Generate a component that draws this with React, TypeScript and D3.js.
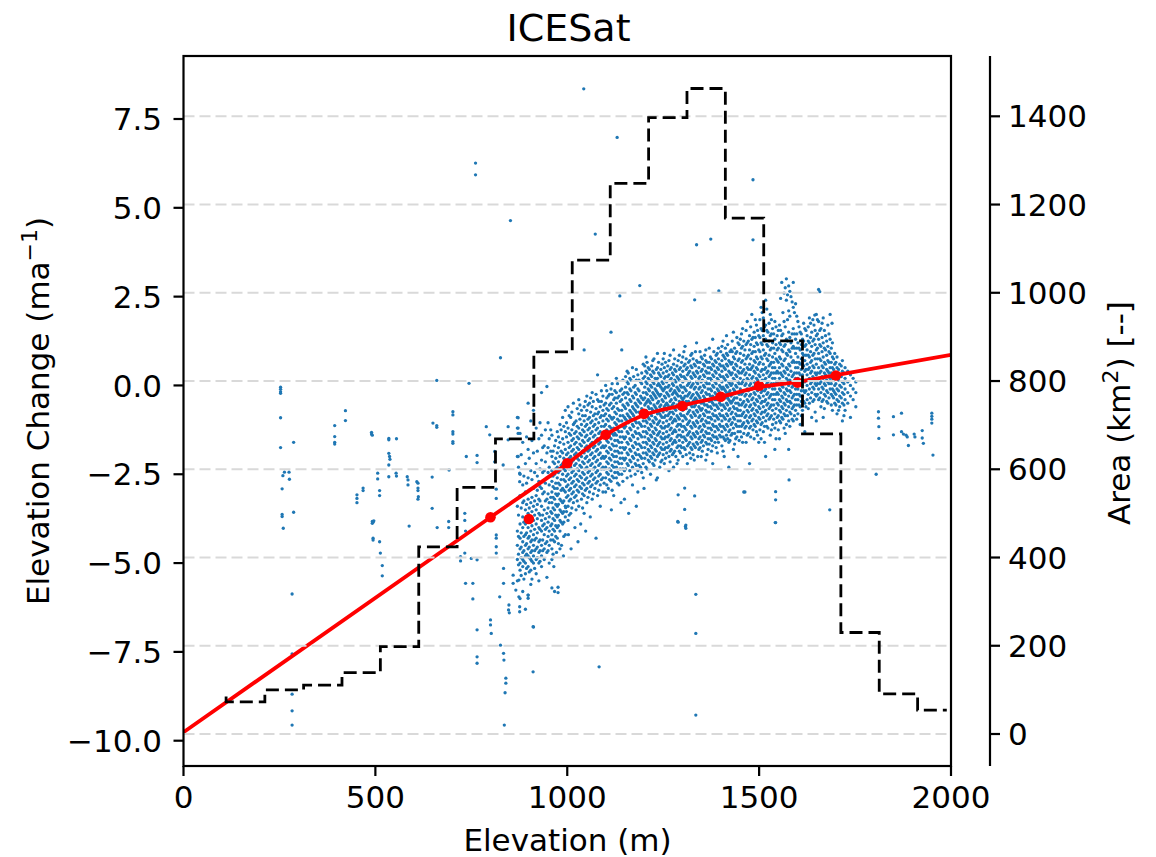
import React from 'react';
import * as d3 from 'd3';

const W = 1156;
const H = 857;
const M = { left: 183.5, right: 951, top: 56, bottom: 766 };
const RIGHT_AXIS_X = 990;

const xTicks = [0, 500, 1000, 1500, 2000];
const leftTicks = [-10, -7.5, -5, -2.5, 0, 2.5, 5, 7.5];
const rightTicks = [0, 200, 400, 600, 800, 1000, 1200, 1400];

// glacier hypsometry (step, "pre")
const histEdges = [111, 212, 313, 413, 513, 613, 713, 813, 913, 1013, 1112, 1212, 1312, 1412, 1512, 1613, 1713, 1813, 1913, 1989];
const histArea = [85, 73, 100, 111, 139, 198, 424, 559, 669, 866, 1074, 1248, 1397, 1463, 1169, 891, 680, 230, 91, 54];

// fitted curve
const fitElev = [0, 800, 1000, 1100, 1200, 1300, 1400, 1500, 1600, 1700, 2000];
const fitVals = [-9.76, -3.71, -2.2, -1.39, -0.83, -0.56, -0.32, -0.05, 0.1, 0.29, 0.86];

// binned means
const binElev = [800, 900, 1000, 1100, 1200, 1300, 1400, 1500, 1600, 1700];
const binMean = [-3.71, -3.76, -2.19, -1.39, -0.8, -0.58, -0.32, -0.01, 0.08, 0.28];

// isolated ICESat points [elevation, dh/dt]
const sparsePoints: [number, number][] = [
  [253, -0.05], [253, -0.11], [253, -0.18], [253, -0.22], [253, -0.91], [253, -1.75], [259, -2.54], [263, -2.44], [275, -2.44], [276, -2.64],
  [257, -2.91], [287, -1.6], [287, -3.57], [257, -3.63], [257, -3.69], [260, -4.02], [283, -5.87], [283, -7.56], [283, -8.69], [283, -9.16], [283, -9.56],
  [394, -1.13], [394, -1.44], [394, -1.6], [394, -1.65], [422, -0.71], [422, -0.99],
  [490, -1.32], [490, -1.37], [492, -1.4], [452, -3.08], [452, -3.18], [452, -3.3], [468, -2.89], [468, -2.96], [506, -2.47], [506, -2.63], [511, -2.96], [511, -3.1], [496, -3.81], [494, -3.85],
  [535, -1.49], [535, -1.53], [535, -1.91], [537, -2.0], [538, -2.08], [535, -2.24], [535, -2.57], [555, -1.5], [554, -2.47], [555, -2.55],
  [583, -2.57], [585, -2.66], [585, -2.8], [608, -2.71], [611, -2.75], [611, -2.89], [611, -2.96], [612, -3.13], [611, -3.2], [648, -2.58], [648, -3.46], [650, -1.06], [660, -1.13], [660, -1.18], [660, 0.14],
  [702, -0.74], [702, -0.83], [702, -1.3], [702, -1.37], [702, -1.58], [702, -1.63], [692, -2.38], [744, 0.06], [737, -2.0],
  [733, -3.6], [733, -3.8], [735, -4.1],
  [765, -1.97], [765, -2.17], [789, -1.16], [798, -1.39], [811, -1.86], [811, -2.15], [815, -2.92], [815, -3.18], [833, -2.24], [846, -1.16], [846, -1.53],
  [872, -1.2], [872, -1.35], [872, -2.0], [872, -0.91], [876, -2.47], [876, -2.71], [876, -3.13], [826, 0.78],
  [492, -3.83], [492, -3.88], [494, -4.3], [494, -4.35], [511, -4.4], [513, -4.72], [518, -5.07], [518, -5.36], [588, -3.96], [661, -4.0], [691, -4.0], [691, -3.83],
  [722, -4.82], [722, -4.94], [733, -4.72], [735, -5.57], [754, -5.57], [754, -6.01], [750, -4.87], [765, -4.91], [765, -6.88], [765, -7.64], [765, -7.82],
  [800, -6.6], [800, -6.74], [802, -6.98], [815, -4.21], [815, -4.3], [815, -4.54], [815, -4.72], [824, -5.95], [826, -7.31], [834, -5.15], [834, -5.57],
  [834, -7.54], [835, -7.73], [840, -8.24], [840, -8.38], [838, -8.65], [836, -9.56], [848, -6.18], [847, -6.32], [849, -6.4], [859, -5.34], [859, -5.57],
  [866, -5.76], [874, -5.48], [874, -5.95], [876, -6.23], [876, -6.37], [898, -5.9], [898, -5.99], [911, -6.79], [911, -8.06],
  [1043, 8.35], [1130, 6.98], [761, 6.26], [761, 5.93], [852, 4.64], [1073, 4.26], [1337, 3.96], [1374, 4.12], [1484, 5.79], [1484, 4.1],
  [1189, 2.81], [1137, 2.52], [1332, 2.41], [1395, 2.66], [1658, 2.64], [1645, 1.98], [1690, 1.75], [1684, -3.5], [1578, -2.66],
  [1543, -2.99], [1543, -3.22], [1543, -3.86], [1460, -3.0], [1289, -3.08], [1306, -2.89], [1306, -3.49], [1332, -3.11], [1289, -3.85], [1308, -3.97],
  [1232, -2.66], [996, -3.44], [1335, -5.88], [1335, -6.98], [1335, -9.28], [1083, -7.92], [1288, -3.83], [1309, -3.93], [1309, -4.02], [1542, -3.86],
  [976, -5.68], [976, -5.83],
  [960, -4.9], [965, -5.1], [972, -4.7], [985, -4.5], [990, -4.8], [1003, -4.2], [1010, -4.6], [1020, -4.0], [1028, -4.4], [1035, -3.9], [1048, -4.1], [1060, -3.7], [1075, -4.3],
  [1115, -3.5], [1140, -3.3], [1160, -3.6], [1180, -3.4], [1200, -2.9],
  [1811, -0.74], [1811, -0.92], [1812, -1.16], [1812, -1.49], [1805, -2.5], [1850, -0.88], [1850, -1.39], [1871, -0.78], [1871, -1.3], [1876, -1.37],
  [1883, -1.4], [1886, -1.45], [1889, -1.69], [1904, -1.37], [1906, -1.45], [1925, -1.27], [1925, -1.48], [1928, -1.63],
  [1950, -0.78], [1950, -0.87], [1950, -0.95], [1950, -1.06], [1953, -1.96],
];

// dense ICESat tracks: [elevation, values along the column]
const trackColumns: [number, number[]][] = [
  [870, [-0.9, -1.2, -2.0, -3.4, -4.1, -4.5, -4.9, -5.5]],
  [877, [-1.35, -2.5, -3.1, -3.9, -4.3, -4.6, -5.0, -5.2, -6.0]],
  [884, [-1.6, -2.8, -3.3, -3.7, -4.0, -4.4, -4.7, -4.9, -5.1, -5.8]],
  [891, [-2.2, -3.0, -3.5, -3.9, -4.2, -4.5, -4.8, -5.0, -5.3, -6.3]],
  [898, [-0.5, -1.8, -2.6, -3.2, -3.6, -4.0, -4.3, -4.6, -4.8, -5.1, -5.9]],
  [905, [-1.0, -2.4, -3.3, -3.7, -4.1, -4.4, -4.7, -4.9, -5.2, -5.6]],
  [912, [-0.7, -1.9, -2.9, -3.4, -3.8, -4.2, -4.5, -4.8, -5.0, -6.8]],
  [919, [-1.2, -2.2, -3.1, -3.5, -3.9, -4.3, -4.6, -4.9, -5.3]],
  [926, [-1.5, -2.7, -3.2, -3.6, -4.0, -4.4, -4.7, -5.0, -5.5]],
  [933, [-0.2, -1.4, -2.1, -2.9, -3.4, -3.8, -4.1, -4.5, -4.8, -5.1]],
  [940, [-1.7, -2.4, -3.0, -3.5, -3.9, -4.2, -4.6, -4.9]],
  [947, [-0.03, -1.9, -2.6, -3.2, -3.6, -4.0, -4.4, -4.7, -5.4]],
  [953, [-1.5, -2.3, -2.8, -3.3, -3.7, -4.1, -4.5, -5.0]],
  [960, [-1.4, -2.0, -2.4, -2.7, -3.0, -3.3, -3.6, -3.9, -4.2, -4.6, -5.7]],
  [967, [-1.7, -2.2, -2.5, -2.9, -3.2, -3.5, -3.8, -4.1, -4.4, -5.8]],
  [974, [-1.3, -1.9, -2.3, -2.6, -2.9, -3.1, -3.4, -3.7, -4.0, -4.3]],
  [981, [-1.1, -1.6, -2.0, -2.4, -2.8, -3.2, -3.5, -3.8, -4.1, -4.6]],
  [988, [-0.9, -1.5, -1.9, -2.2, -2.5, -2.9, -3.3, -3.6, -3.9]],
  [995, [-0.7, -1.3, -1.8, -2.1, -2.4, -2.7, -3.0, -3.4, -3.7, -4.2]],
  [1002, [-0.6, -1.2, -1.6, -1.9, -2.2, -2.5, -2.8, -3.1, -3.4, -3.8]],
  [1009, [-0.9, -1.4, -1.7, -2.0, -2.3, -2.6, -2.9, -3.2, -3.6]],
  [1016, [-0.5, -1.1, -1.5, -1.8, -2.1, -2.4, -2.7, -3.0, -3.3]],
  [1023, [-1.0, -1.3, -1.6, -1.9, -2.2, -2.5, -2.8, -3.1, -3.5]],
  [1030, [-0.4, -0.8, -1.2, -1.5, -1.8, -2.1, -2.4, -2.7, -3.0, -3.4]],
  [1037, [-0.7, -1.1, -1.4, -1.7, -2.0, -2.3, -2.6, -2.9, -3.2]],
  [1044, [1.0, -0.6, -1.0, -1.3, -1.6, -1.9, -2.2, -2.5, -2.8, -3.1, -3.6]],
  [1051, [-0.3, -0.7, -1.1, -1.4, -1.7, -2.0, -2.3, -2.6, -2.9, -3.3]],
  [1058, [-0.5, -0.9, -1.2, -1.5, -1.8, -2.1, -2.4, -2.7, -3.0]],
  [1065, [-0.2, -0.6, -1.0, -1.3, -1.6, -1.9, -2.2, -2.5, -2.8, -3.2]],
  [1072, [-0.8, -1.1, -1.4, -1.7, -2.0, -2.3, -2.6, -2.9]],
  [1079, [0.3, -0.4, -0.8, -1.2, -1.5, -1.8, -2.1, -2.4, -2.7, -3.1]],
  [1086, [-0.6, -0.9, -1.3, -1.6, -1.9, -2.2, -2.5, -2.8, -3.4]],
  [1093, [-0.3, -0.7, -1.0, -1.4, -1.7, -2.0, -2.3, -2.6, -3.0]],
  [1100, [0.0, -0.5, -0.8, -1.1, -1.4, -1.7, -2.0, -2.3, -2.6, -3.0]],
  [1107, [-0.3, -0.7, -1.0, -1.3, -1.6, -1.9, -2.2, -2.5, -2.9]],
  [1114, [1.5, -0.1, -0.5, -0.9, -1.2, -1.5, -1.8, -2.1, -2.4, -2.7]],
  [1121, [-0.4, -0.6, -0.9, -1.2, -1.4, -1.7, -2.0, -2.3, -2.6, -3.1]],
  [1128, [0.2, -0.2, -0.5, -0.8, -1.1, -1.4, -1.7, -2.0, -2.3, -2.6]],
  [1135, [-0.3, -0.7, -1.0, -1.3, -1.6, -1.9, -2.2, -2.5, -2.8]],
  [1142, [1.0, -0.1, -0.4, -0.7, -1.0, -1.3, -1.6, -1.9, -2.2, -2.5]],
  [1149, [-0.2, -0.6, -0.9, -1.2, -1.5, -1.8, -2.1, -2.4, -3.2]],
  [1156, [0.4, 0.1, -0.2, -0.5, -0.8, -1.0, -1.3, -1.6, -1.9, -2.2, -2.6]],
  [1163, [0.2, -0.1, -0.4, -0.7, -0.9, -1.2, -1.5, -1.8, -2.1, -2.4]],
  [1170, [0.5, -0.3, -0.6, -0.8, -1.1, -1.4, -1.7, -2.0, -2.3, -2.8]],
  [1177, [0.0, -0.2, -0.5, -0.7, -1.0, -1.3, -1.6, -1.9, -2.2, -2.5]],
  [1184, [0.3, -0.1, -0.4, -0.6, -0.9, -1.2, -1.5, -1.8, -2.1, -2.4, -3.0]],
  [1191, [0.1, -0.3, -0.5, -0.8, -1.1, -1.4, -1.7, -2.0, -2.3]],
  [1198, [0.6, 0.2, -0.2, -0.4, -0.7, -1.0, -1.3, -1.6, -1.9, -2.2, -2.6]],
  [1205, [0.8, 0.4, 0.1, -0.2, -0.5, -0.7, -1.0, -1.3, -1.6, -1.9, -2.3]],
  [1211, [0.5, 0.2, -0.1, -0.4, -0.6, -0.9, -1.2, -1.5, -1.8, -2.1]],
  [1217, [0.3, 0.0, -0.3, -0.5, -0.8, -1.1, -1.4, -1.7, -2.0, -2.5]],
  [1223, [0.7, 0.4, 0.1, -0.2, -0.4, -0.7, -1.0, -1.3, -1.6, -1.9, -2.2]],
  [1229, [0.2, -0.1, -0.3, -0.6, -0.9, -1.2, -1.5, -1.8, -2.1]],
  [1235, [0.9, 0.5, 0.2, 0.0, -0.2, -0.5, -0.8, -1.1, -1.4, -1.7, -2.0, -2.6]],
  [1241, [0.3, 0.0, -0.3, -0.6, -0.8, -1.0, -1.3, -1.6, -1.9, -2.3]],
  [1247, [0.6, 0.1, -0.1, -0.4, -0.7, -0.9, -1.2, -1.5, -1.8, -2.1]],
  [1253, [0.9, 0.5, 0.2, -0.1, -0.3, -0.6, -0.9, -1.2, -1.5, -1.8, -2.2]],
  [1259, [0.4, 0.1, -0.2, -0.5, -0.7, -1.0, -1.3, -1.6, -1.9]],
  [1265, [0.7, 0.3, 0.0, -0.3, -0.6, -0.8, -1.1, -1.4, -1.7, -2.0, -2.4]],
  [1271, [0.5, 0.2, -0.1, -0.4, -0.6, -0.9, -1.2, -1.5, -1.8]],
  [1277, [1.0, 0.6, 0.3, 0.0, -0.2, -0.5, -0.8, -1.0, -1.3, -1.6, -1.9, -2.3]],
  [1283, [0.4, 0.1, -0.2, -0.4, -0.7, -1.0, -1.3, -1.6, -2.0]],
  [1289, [0.7, 0.2, -0.1, -0.3, -0.6, -0.9, -1.1, -1.4, -1.7, -2.1]],
  [1295, [0.5, 0.3, 0.0, -0.3, -0.5, -0.8, -1.1, -1.4, -1.7, -1.9]],
  [1301, [0.8, 0.4, 0.1, -0.2, -0.4, -0.7, -1.0, -1.3, -1.6, -2.0]],
  [1307, [1.1, 0.6, 0.2, -0.1, -0.3, -0.6, -0.9, -1.2, -1.5, -1.8]],
  [1313, [0.5, 0.3, 0.0, -0.3, -0.5, -0.8, -1.1, -1.4, -1.7, -2.2]],
  [1319, [0.7, 0.4, 0.1, -0.2, -0.5, -0.7, -1.0, -1.3, -1.6, -1.9]],
  [1325, [0.9, 0.5, 0.2, 0.0, -0.3, -0.6, -0.9, -1.2, -1.5, -1.8]],
  [1331, [0.6, 0.3, -0.1, -0.4, -0.6, -0.8, -1.1, -1.4, -1.7, -2.1]],
  [1337, [1.2, 0.7, 0.4, 0.1, -0.2, -0.4, -0.7, -1.0, -1.3, -1.6]],
  [1343, [0.5, 0.2, -0.1, -0.3, -0.6, -0.9, -1.2, -1.5, -1.8]],
  [1349, [0.8, 0.4, 0.1, -0.2, -0.5, -0.7, -1.0, -1.3, -1.6, -2.0]],
  [1355, [0.6, 0.3, 0.0, -0.3, -0.5, -0.8, -1.1, -1.4, -1.7]],
  [1361, [1.0, 0.7, 0.4, 0.1, -0.2, -0.4, -0.7, -1.0, -1.3, -1.6, -2.1]],
  [1367, [0.5, 0.2, -0.1, -0.4, -0.6, -0.9, -1.2, -1.5, -1.8]],
  [1373, [0.8, 0.5, 0.2, -0.1, -0.3, -0.6, -0.9, -1.2, -1.5]],
  [1379, [1.3, 0.6, 0.3, 0.0, -0.3, -0.5, -0.8, -1.1, -1.4, -1.7, -2.2]],
  [1385, [0.7, 0.4, 0.1, -0.2, -0.4, -0.7, -1.0, -1.3, -1.6]],
  [1391, [0.9, 0.5, 0.2, -0.1, -0.4, -0.6, -0.9, -1.2, -1.5, -1.9]],
  [1397, [0.6, 0.3, 0.0, -0.2, -0.5, -0.8, -1.1, -1.4]],
  [1403, [1.1, 0.7, 0.4, 0.1, -0.1, -0.4, -0.7, -1.0, -1.3, -1.7]],
  [1409, [0.8, 0.5, 0.2, -0.1, -0.3, -0.6, -0.9, -1.2, -1.5, -2.0]],
  [1415, [1.4, 0.9, 0.6, 0.3, 0.0, -0.2, -0.5, -0.8, -1.1, -1.4]],
  [1421, [0.7, 0.4, 0.1, -0.2, -0.4, -0.7, -1.0, -1.3, -1.6, -2.3]],
  [1427, [1.0, 0.6, 0.3, 0.0, -0.3, -0.5, -0.8, -1.1, -1.4]],
  [1433, [1.5, 0.8, 0.5, 0.2, -0.1, -0.4, -0.6, -0.9, -1.2, -1.8]],
  [1439, [0.9, 0.6, 0.3, 0.0, -0.2, -0.5, -0.8, -1.1, -1.5]],
  [1445, [1.2, 0.7, 0.4, 0.1, -0.2, -0.5, -0.7, -1.0, -1.3, -2.0]],
  [1451, [1.3, 0.9, 0.5, 0.2, -0.1, -0.4, -0.7, -1.0, -1.3]],
  [1457, [1.6, 1.1, 0.7, 0.4, 0.1, -0.2, -0.5, -0.8, -1.1, -1.6]],
  [1463, [1.0, 0.6, 0.3, 0.0, -0.3, -0.6, -0.9, -1.2, -3.0]],
  [1469, [1.8, 1.2, 0.8, 0.5, 0.2, -0.1, -0.4, -0.7, -1.0, -1.4]],
  [1475, [1.4, 1.0, 0.6, 0.3, 0.0, -0.3, -0.6, -0.9, -1.2, -2.2]],
  [1481, [2.0, 1.3, 0.9, 0.5, 0.2, -0.1, -0.4, -0.7, -1.0]],
  [1487, [1.5, 1.1, 0.7, 0.4, 0.1, -0.2, -0.5, -0.8, -1.1, -1.5]],
  [1493, [1.7, 1.2, 0.8, 0.5, 0.2, -0.1, -0.4, -0.7, -1.0, -1.3]],
  [1499, [1.4, 1.0, 0.6, 0.3, 0.0, -0.3, -0.6, -0.9, -1.6]],
  [1505, [2.2, 1.6, 1.2, 0.8, 0.4, 0.1, -0.2, -0.5, -0.8, -1.1, -1.5]],
  [1511, [1.9, 1.4, 1.0, 0.6, 0.3, 0.0, -0.3, -0.6, -0.9, -1.3]],
  [1517, [2.4, 1.7, 1.3, 0.9, 0.5, 0.2, -0.1, -0.4, -0.7, -1.0, -2.0]],
  [1523, [1.5, 1.1, 0.7, 0.4, 0.1, -0.2, -0.5, -0.8, -1.2]],
  [1529, [2.0, 1.4, 1.0, 0.6, 0.3, 0.0, -0.3, -0.6, -0.9, -1.4]],
  [1535, [1.6, 1.2, 0.8, 0.5, 0.2, -0.1, -0.4, -0.7, -1.1]],
  [1541, [1.8, 1.3, 0.9, 0.5, 0.2, -0.1, -0.4, -0.8, -1.2, -1.8]],
  [1547, [1.4, 1.0, 0.7, 0.4, 0.1, -0.2, -0.5, -0.9]],
  [1553, [1.7, 1.2, 0.8, 0.5, 0.2, -0.1, -0.4, -0.7, -1.0, -1.5]],
  [1559, [2.9, 1.4, 1.0, 0.6, 0.3, 0.0, -0.3, -0.6, -0.9]],
  [1565, [2.6, 1.8, 1.1, 0.7, 0.4, 0.1, -0.2, -0.5, -0.8, -1.2]],
  [1571, [3.0, 2.4, 1.3, 0.9, 0.5, 0.2, -0.1, -0.4, -0.7, -1.1]],
  [1577, [2.8, 2.1, 1.5, 1.0, 0.6, 0.3, 0.0, -0.3, -0.6, -1.0, -1.8]],
  [1583, [2.5, 1.2, 0.8, 0.4, 0.1, -0.2, -0.5, -0.8]],
  [1589, [2.9, 2.2, 1.6, 1.1, 0.7, 0.3, 0.0, -0.3, -0.6, -1.0]],
  [1595, [2.3, 1.3, 0.9, 0.5, 0.2, -0.1, -0.4, -0.7]],
  [1601, [1.8, 1.2, 0.8, 0.5, 0.2, -0.1, -0.4, -0.8]],
  [1607, [1.5, 1.0, 0.6, 0.3, 0.0, -0.3, -0.6, -1.1]],
  [1613, [1.3, 0.9, 0.6, 0.3, 0.0, -0.3, -0.7]],
  [1619, [1.6, 1.1, 0.7, 0.4, 0.1, -0.2, -0.5, -1.3]],
  [1625, [1.4, 1.0, 0.6, 0.3, 0.0, -0.4]],
  [1631, [1.9, 1.2, 0.8, 0.5, 0.2, -0.1, -0.5]],
  [1637, [1.5, 1.1, 0.7, 0.4, 0.1, -0.2, -0.9]],
  [1643, [1.7, 1.3, 0.9, 0.5, 0.2, -0.1, -0.4]],
  [1649, [2.0, 1.4, 1.0, 0.6, 0.3, 0.0, -0.3, -1.0]],
  [1655, [2.7, 1.8, 1.3, 0.9, 0.5, 0.2, -0.1, -0.4]],
  [1661, [1.6, 1.1, 0.7, 0.4, 0.1, -0.2, -0.6]],
  [1667, [1.9, 1.2, 0.8, 0.5, 0.2, -0.1, -0.4, -0.9]],
  [1673, [1.4, 1.0, 0.6, 0.3, 0.0, -0.3]],
  [1679, [1.7, 1.1, 0.7, 0.4, 0.1, -0.2, -0.5]],
  [1685, [2.0, 1.3, 0.9, 0.5, 0.2, -0.1]],
  [1691, [1.2, 0.8, 0.5, 0.2, -0.1, -0.3, -0.7]],
  [1697, [0.9, 0.6, 0.3, 0.0, -0.2, -0.5]],
  [1703, [0.8, 0.5, 0.2, -0.1, -0.4, -0.8]],
  [1710, [0.6, 0.3, 0.0, -0.3, -0.6]],
  [1717, [0.7, 0.4, 0.1, -0.2, -0.5, -1.0]],
  [1724, [0.5, 0.2, -0.1, -0.4, -0.7]],
  [1731, [0.4, 0.1, -0.2, -0.5]],
  [1738, [0.3, 0.0, -0.3, -0.9]],
  [1745, [0.2, -0.1, -0.4]],
  [1752, [0.1, -0.2, -0.6]],
];

// second set of crossing tracks, interleaved with the first
const trackColumnsB: [number, number[]][] = [
  [873, [-2.3, -3.65, -4.25, -4.75, -5.05]],
  [880, [-1.95, -3.45, -4.15, -4.55, -4.85, -5.35]],
  [887, [-2.55, -3.25, -3.85, -4.25, -4.65, -4.95, -5.45]],
  [894, [-1.45, -2.75, -3.35, -3.75, -4.15, -4.45, -4.75, -5.15]],
  [901, [-2.05, -2.95, -3.45, -3.85, -4.25, -4.55, -4.85, -5.25]],
  [908, [-1.55, -2.65, -3.15, -3.55, -3.95, -4.35, -4.65, -4.95, -5.45]],
  [915, [-2.45, -3.25, -3.65, -4.05, -4.35, -4.65, -5.15]],
  [922, [-1.85, -2.55, -2.95, -3.35, -3.75, -4.15, -4.55, -4.85]],
  [929, [-1.05, -2.35, -2.85, -3.25, -3.65, -4.05, -4.35, -4.65, -4.95]],
  [936, [-1.75, -2.45, -3.05, -3.65, -3.95, -4.35, -4.65]],
  [943, [-1.25, -2.15, -2.75, -3.25, -3.75, -4.05, -4.45]],
  [950, [-1.05, -1.75, -2.45, -3.05, -3.45, -3.85, -4.25, -4.65]],
  [957, [-1.25, -1.85, -2.55, -3.15, -3.55, -3.95, -4.35]],
  [963, [-1.85, -2.15, -2.55, -2.85, -3.15, -3.45, -3.75, -4.05, -4.35, -4.75]],
  [970, [-1.55, -2.05, -2.35, -2.75, -3.05, -3.35, -3.65, -3.95, -4.25]],
  [977, [-1.45, -1.75, -2.15, -2.45, -2.75, -3.05, -3.35, -3.65, -3.95, -4.45]],
  [984, [-1.25, -1.85, -2.25, -2.65, -2.95, -3.25, -3.55, -3.85]],
  [991, [-1.15, -1.65, -2.05, -2.35, -2.65, -2.95, -3.25, -3.55, -3.85, -4.25]],
  [998, [-1.05, -1.45, -1.95, -2.25, -2.55, -2.85, -3.15, -3.55]],
  [1005, [-0.85, -1.35, -1.75, -2.05, -2.35, -2.65, -2.95, -3.25, -3.65]],
  [1012, [-0.75, -1.25, -1.55, -1.85, -2.15, -2.45, -2.75, -3.05, -3.45]],
  [1019, [-1.05, -1.35, -1.65, -1.95, -2.25, -2.55, -2.85, -3.15]],
  [1026, [-0.65, -1.15, -1.45, -1.75, -2.05, -2.35, -2.65, -2.95, -3.25]],
  [1033, [-0.55, -0.95, -1.35, -1.65, -1.95, -2.25, -2.55, -2.85]],
  [1040, [-0.85, -1.25, -1.55, -1.85, -2.15, -2.45, -2.75, -3.05, -3.45]],
  [1047, [-0.45, -0.85, -1.15, -1.45, -1.75, -2.05, -2.35, -2.65, -2.95]],
  [1054, [-0.55, -0.95, -1.25, -1.55, -1.85, -2.15, -2.45, -2.75, -3.15]],
  [1061, [-0.35, -0.75, -1.05, -1.35, -1.65, -1.95, -2.25, -2.55, -2.85]],
  [1068, [-0.45, -0.85, -1.15, -1.45, -1.75, -2.05, -2.35, -2.65, -3.05]],
  [1075, [-0.25, -0.65, -0.95, -1.25, -1.55, -1.85, -2.15, -2.45, -2.75]],
  [1082, [-0.45, -0.75, -1.05, -1.35, -1.65, -1.95, -2.25, -2.55, -2.95]],
  [1089, [-0.15, -0.45, -0.85, -1.15, -1.45, -1.75, -2.05, -2.35, -2.65]],
  [1096, [-0.55, -0.85, -1.15, -1.45, -1.75, -2.05, -2.35, -2.75]],
  [1103, [-0.15, -0.35, -0.65, -0.95, -1.25, -1.55, -1.85, -2.15, -2.45, -2.8]],
  [1110, [-0.25, -0.55, -0.85, -1.15, -1.45, -1.75, -2.05, -2.35, -2.65]],
  [1117, [0.05, -0.25, -0.65, -0.95, -1.35, -1.65, -1.95, -2.25, -2.55, -2.95]],
  [1124, [-0.15, -0.35, -0.75, -1.05, -1.35, -1.55, -1.85, -2.15, -2.45]],
  [1131, [0.05, -0.35, -0.65, -0.95, -1.25, -1.55, -1.85, -2.15, -2.45, -2.75]],
  [1138, [-0.15, -0.45, -0.85, -1.15, -1.45, -1.75, -2.05, -2.35]],
  [1145, [0.15, -0.25, -0.55, -0.85, -1.15, -1.45, -1.75, -2.05, -2.35, -2.7]],
  [1152, [0.25, -0.05, -0.35, -0.65, -0.95, -1.15, -1.45, -1.75, -2.05, -2.35]],
  [1159, [0.35, 0.05, -0.25, -0.55, -0.85, -1.05, -1.35, -1.65, -1.95, -2.25]],
  [1166, [0.15, -0.15, -0.45, -0.75, -0.95, -1.25, -1.55, -1.85, -2.15, -2.55]],
  [1173, [0.25, -0.05, -0.35, -0.65, -0.85, -1.15, -1.45, -1.75, -2.05]],
  [1180, [0.45, 0.15, -0.25, -0.55, -0.75, -1.05, -1.35, -1.65, -1.95, -2.25]],
  [1187, [0.15, -0.15, -0.45, -0.75, -1.05, -1.35, -1.65, -1.95, -2.25]],
  [1194, [0.35, 0.05, -0.35, -0.65, -0.85, -1.15, -1.45, -1.75, -2.05, -2.45]],
  [1202, [0.55, 0.25, -0.05, -0.35, -0.55, -0.85, -1.15, -1.45, -1.75, -2.05]],
  [1208, [0.65, 0.35, 0.05, -0.25, -0.45, -0.75, -1.05, -1.35, -1.65, -1.95, -2.35]],
  [1214, [0.45, 0.15, -0.15, -0.45, -0.65, -0.95, -1.25, -1.55, -1.85, -2.15]],
  [1220, [0.55, 0.25, -0.05, -0.35, -0.65, -0.85, -1.15, -1.45, -1.75, -2.05]],
  [1226, [0.75, 0.35, 0.05, -0.25, -0.55, -0.75, -1.05, -1.35, -1.65, -1.95, -2.25]],
  [1232, [0.45, 0.15, -0.15, -0.35, -0.65, -0.95, -1.25, -1.55, -1.85]],
  [1238, [0.65, 0.35, 0.05, -0.25, -0.45, -0.75, -1.05, -1.35, -1.65, -1.95]],
  [1244, [0.45, 0.25, -0.05, -0.25, -0.55, -0.85, -1.15, -1.45, -1.75, -2.15]],
  [1250, [0.75, 0.35, 0.05, -0.15, -0.45, -0.75, -1.05, -1.35, -1.65, -1.95]],
  [1256, [0.65, 0.25, -0.05, -0.35, -0.55, -0.85, -1.15, -1.45, -1.75, -2.05]],
  [1262, [0.55, 0.25, -0.05, -0.25, -0.55, -0.85, -1.15, -1.45, -1.75]],
  [1268, [0.85, 0.45, 0.15, -0.15, -0.45, -0.75, -0.95, -1.25, -1.55, -1.85, -2.15]],
  [1274, [0.35, 0.05, -0.25, -0.55, -0.75, -1.05, -1.35, -1.65, -1.95]],
  [1280, [0.75, 0.45, 0.15, -0.15, -0.35, -0.65, -0.95, -1.25, -1.55, -1.85]],
  [1286, [0.55, 0.25, -0.05, -0.25, -0.55, -0.85, -1.15, -1.45, -1.75, -2.2]],
  [1292, [0.85, 0.45, 0.15, -0.15, -0.45, -0.65, -0.95, -1.25, -1.55, -1.85]],
  [1298, [0.65, 0.25, -0.05, -0.35, -0.55, -0.85, -1.15, -1.45, -1.75]],
  [1304, [0.95, 0.55, 0.25, -0.05, -0.35, -0.55, -0.85, -1.15, -1.45, -1.75]],
  [1310, [0.75, 0.45, 0.15, -0.15, -0.45, -0.65, -0.95, -1.25, -1.55, -1.95]],
  [1316, [0.65, 0.35, 0.05, -0.25, -0.45, -0.75, -1.05, -1.35, -1.65]],
  [1322, [0.85, 0.55, 0.25, -0.05, -0.35, -0.55, -0.85, -1.15, -1.45, -1.75, -2.05]],
  [1328, [0.75, 0.35, 0.05, -0.25, -0.45, -0.75, -1.05, -1.35, -1.65, -1.95]],
  [1334, [0.95, 0.55, 0.25, -0.05, -0.35, -0.55, -0.85, -1.15, -1.45, -1.75]],
  [1340, [0.65, 0.35, 0.05, -0.25, -0.45, -0.75, -1.05, -1.35, -1.65, -2.0]],
  [1346, [0.95, 0.65, 0.25, -0.05, -0.35, -0.65, -0.85, -1.15, -1.45, -1.75]],
  [1352, [0.75, 0.45, 0.15, -0.15, -0.45, -0.65, -0.95, -1.25, -1.55, -1.85]],
  [1358, [0.85, 0.55, 0.25, -0.05, -0.35, -0.55, -0.85, -1.15, -1.45]],
  [1364, [0.65, 0.35, 0.05, -0.25, -0.55, -0.75, -1.05, -1.35, -1.65, -1.95]],
  [1370, [1.05, 0.65, 0.35, 0.05, -0.25, -0.45, -0.75, -1.05, -1.35, -1.65]],
  [1376, [0.75, 0.45, 0.15, -0.15, -0.45, -0.65, -0.95, -1.25, -1.55, -1.85]],
  [1382, [0.95, 0.55, 0.25, -0.05, -0.35, -0.55, -0.85, -1.15, -1.45]],
  [1388, [0.85, 0.65, 0.35, 0.05, -0.25, -0.55, -0.85, -1.15, -1.45, -1.75]],
  [1394, [1.05, 0.75, 0.45, 0.15, -0.15, -0.35, -0.65, -0.95, -1.25, -1.6]],
  [1400, [0.95, 0.55, 0.25, -0.05, -0.25, -0.55, -0.85, -1.15, -1.45]],
  [1406, [1.25, 0.85, 0.55, 0.25, -0.05, -0.25, -0.55, -0.85, -1.15, -1.45, -1.85]],
  [1412, [1.05, 0.75, 0.45, 0.15, -0.15, -0.35, -0.65, -0.95, -1.25, -1.55]],
  [1418, [1.15, 0.85, 0.55, 0.25, -0.05, -0.35, -0.55, -0.85, -1.15, -1.5]],
  [1424, [0.95, 0.65, 0.35, 0.05, -0.15, -0.45, -0.65, -0.95, -1.25, -1.55]],
  [1430, [1.25, 0.95, 0.65, 0.35, 0.05, -0.25, -0.45, -0.75, -1.05, -1.35]],
  [1436, [1.05, 0.75, 0.45, 0.15, -0.15, -0.35, -0.65, -0.95, -1.35, -1.65]],
  [1442, [1.35, 0.95, 0.55, 0.25, -0.05, -0.35, -0.65, -0.85, -1.15, -1.45]],
  [1448, [1.15, 0.75, 0.35, 0.05, -0.25, -0.55, -0.85, -1.15, -1.55]],
  [1454, [1.45, 1.05, 0.65, 0.35, 0.05, -0.25, -0.55, -0.85, -1.15, -1.45]],
  [1460, [1.25, 0.85, 0.45, 0.15, -0.15, -0.45, -0.75, -1.05, -1.35]],
  [1466, [1.55, 1.15, 0.75, 0.35, 0.05, -0.25, -0.55, -0.85, -1.15, -1.6]],
  [1472, [1.25, 0.85, 0.45, 0.15, -0.15, -0.45, -0.75, -1.05, -1.35]],
  [1478, [1.65, 1.15, 0.75, 0.45, 0.05, -0.25, -0.55, -0.85, -1.15, -1.45]],
  [1484, [1.35, 0.95, 0.55, 0.25, -0.05, -0.35, -0.65, -0.95, -1.25]],
  [1490, [1.85, 1.35, 0.95, 0.65, 0.35, 0.05, -0.25, -0.55, -0.85, -1.15]],
  [1496, [1.55, 1.15, 0.75, 0.45, 0.15, -0.15, -0.45, -0.75, -1.05, -1.4]],
  [1502, [1.85, 1.35, 0.95, 0.65, 0.25, -0.05, -0.35, -0.65, -0.95, -1.25]],
  [1508, [2.05, 1.55, 1.15, 0.75, 0.45, 0.15, -0.15, -0.45, -0.75, -1.05]],
  [1514, [1.65, 1.25, 0.85, 0.45, 0.15, -0.15, -0.45, -0.75, -1.15, -1.6]],
  [1520, [2.15, 1.55, 1.15, 0.75, 0.35, 0.05, -0.25, -0.55, -0.85, -1.15]],
  [1526, [1.75, 1.25, 0.85, 0.55, 0.25, -0.05, -0.35, -0.65, -0.95]],
  [1532, [1.85, 1.45, 1.05, 0.65, 0.35, 0.05, -0.25, -0.55, -0.85, -1.25]],
  [1538, [1.45, 1.05, 0.65, 0.35, 0.05, -0.25, -0.55, -0.95]],
  [1544, [1.65, 1.15, 0.75, 0.35, 0.05, -0.25, -0.65, -1.05, -1.5]],
  [1550, [1.55, 1.05, 0.65, 0.35, 0.05, -0.25, -0.55, -0.85, -1.25]],
  [1556, [2.45, 1.55, 1.15, 0.75, 0.35, 0.05, -0.15, -0.45, -0.75, -1.05]],
  [1562, [2.05, 1.45, 0.95, 0.55, 0.25, -0.05, -0.35, -0.65, -0.95]],
  [1568, [2.75, 1.65, 1.15, 0.75, 0.35, 0.05, -0.25, -0.55, -0.85, -1.35]],
  [1574, [2.55, 1.85, 1.25, 0.85, 0.45, 0.15, -0.15, -0.45, -0.85]],
  [1580, [2.65, 1.95, 1.35, 0.95, 0.55, 0.15, -0.15, -0.45, -0.75, -1.15]],
  [1586, [2.35, 1.45, 1.05, 0.65, 0.25, -0.05, -0.35, -0.65, -0.95]],
  [1592, [2.05, 1.45, 1.05, 0.65, 0.35, 0.05, -0.25, -0.55, -0.85]],
  [1598, [1.95, 1.45, 1.05, 0.65, 0.35, 0.05, -0.25, -0.55, -0.95]],
  [1604, [1.65, 1.05, 0.65, 0.35, 0.05, -0.25, -0.55]],
  [1610, [1.45, 1.15, 0.75, 0.45, 0.15, -0.15, -0.45, -0.85]],
  [1616, [1.75, 1.25, 0.85, 0.55, 0.15, -0.15, -0.45]],
  [1622, [1.55, 1.15, 0.85, 0.45, 0.15, -0.15, -0.6]],
  [1628, [1.65, 1.25, 0.85, 0.45, 0.15, -0.25, -0.65]],
  [1634, [1.75, 1.35, 0.95, 0.65, 0.35, 0.05, -0.35]],
  [1640, [1.85, 1.25, 0.85, 0.55, 0.25, -0.05, -0.45]],
  [1646, [1.55, 1.15, 0.75, 0.35, 0.05, -0.25, -0.75]],
  [1652, [1.85, 1.45, 1.05, 0.75, 0.35, 0.05, -0.25]],
  [1658, [1.55, 1.15, 0.75, 0.35, 0.05, -0.35]],
  [1664, [1.75, 1.35, 0.95, 0.55, 0.25, -0.05, -0.45]],
  [1670, [1.55, 1.05, 0.65, 0.35, 0.05, -0.25, -0.65]],
  [1676, [1.25, 0.85, 0.45, 0.15, -0.15, -0.45]],
  [1682, [1.45, 0.95, 0.65, 0.35, 0.05, -0.35]],
  [1688, [1.05, 0.65, 0.35, 0.05, -0.25, -0.55]],
  [1694, [0.75, 0.45, 0.15, -0.15, -0.35]],
  [1700, [0.65, 0.35, 0.05, -0.25, -0.55]],
  [1707, [0.45, 0.15, -0.15, -0.45, -0.7]],
  [1714, [0.55, 0.25, -0.05, -0.35]],
  [1721, [0.35, 0.05, -0.25, -0.55, -0.85]],
];

const FONT = '"DejaVu Sans", Verdana, sans-serif';

export default function App() {
  const x = d3.scaleLinear().domain([0, 2000]).range([M.left, M.right]);
  const yL = d3.scaleLinear().domain([-10, 7.5]).range([740.7, 119]);
  const yR = d3.scaleLinear().domain([0, 1400]).range([734, 116.3]);

  const points: [number, number][] = [...sparsePoints];
  trackColumns.forEach(([e, vals]) => vals.forEach((v) => points.push([e, v])));
  trackColumnsB.forEach(([e, vals]) => vals.forEach((v) => points.push([e, v])));

  const fitLine = d3
    .line<number>()
    .x((_, i) => x(fitElev[i]))
    .y((d) => yL(d))
    .curve(d3.curveMonotoneX)(fitVals);

  const histLine = d3
    .line<number>()
    .x((_, i) => x(histEdges[i]))
    .y((d) => yR(d))
    .curve(d3.curveStepBefore)(histArea);

  const fmtL = d3.format('.1f');
  const TICK = 10;
  const tickW = 2.2;

  return (
    <svg
      width={W}
      height={H}
      viewBox={`0 0 ${W} ${H}`}
      style={{ position: 'absolute', left: 0, top: 0, background: '#fff' }}
      fontFamily={FONT}
    >
      <rect x={0} y={0} width={W} height={H} fill="#fff" />
      <defs>
        <clipPath id="plotClip">
          <rect x={M.left} y={M.top} width={M.right - M.left} height={M.bottom - M.top} />
        </clipPath>
      </defs>

      <g clipPath="url(#plotClip)">
        {points.map(([e, v], i) => (
          <circle key={i} cx={x(e)} cy={yL(v)} r={1.65} fill="#1f77b4" />
        ))}
        <path d={fitLine || ''} fill="none" stroke="#ff0000" strokeWidth={3.8} />
        {binElev.map((e, i) => (
          <circle key={'b' + i} cx={x(e)} cy={yL(binMean[i])} r={5.3} fill="#ff0000" />
        ))}
        {rightTicks.map((t) => (
          <line
            key={'g' + t}
            x1={M.left}
            x2={M.right}
            y1={yR(t)}
            y2={yR(t)}
            stroke="#d9d9d9"
            strokeWidth={2}
            strokeDasharray="11,5"
          />
        ))}
        <path d={histLine || ''} fill="none" stroke="#000" strokeWidth={2.8} strokeDasharray="13,6" />
      </g>

      {/* frame */}
      <rect
        x={M.left}
        y={M.top}
        width={M.right - M.left}
        height={M.bottom - M.top}
        fill="none"
        stroke="#000"
        strokeWidth={2.2}
      />

      {/* bottom axis */}
      {xTicks.map((t) => (
        <g key={'x' + t}>
          <line x1={x(t)} x2={x(t)} y1={M.bottom} y2={M.bottom + TICK} stroke="#000" strokeWidth={tickW} />
          <text x={x(t)} y={808} fontSize={31} textAnchor="middle" fill="#000">
            {t}
          </text>
        </g>
      ))}
      <text x={567.5} y={851} fontSize={31} textAnchor="middle" fill="#000">
        Elevation (m)
      </text>

      {/* left axis */}
      {leftTicks.map((t) => (
        <g key={'l' + t}>
          <line x1={M.left - TICK} x2={M.left} y1={yL(t)} y2={yL(t)} stroke="#000" strokeWidth={tickW} />
          <text x={162} y={yL(t)} dy="0.36em" fontSize={31} textAnchor="end" fill="#000">
            {fmtL(t)}
          </text>
        </g>
      ))}
      <text transform={`translate(49,411) rotate(-90)`} fontSize={31} textAnchor="middle" fill="#000">
        Elevation Change (ma
        <tspan baselineShift="super" fontSize={22}>
          −1
        </tspan>
        )
      </text>

      {/* right axis */}
      <line x1={RIGHT_AXIS_X} x2={RIGHT_AXIS_X} y1={M.top} y2={M.bottom} stroke="#000" strokeWidth={2.2} />
      {rightTicks.map((t) => (
        <g key={'r' + t}>
          <line
            x1={RIGHT_AXIS_X}
            x2={RIGHT_AXIS_X + TICK}
            y1={yR(t)}
            y2={yR(t)}
            stroke="#000"
            strokeWidth={tickW}
          />
          <text x={1008} y={yR(t)} dy="0.36em" fontSize={31} textAnchor="start" fill="#000">
            {t}
          </text>
        </g>
      ))}
      <text transform={`translate(1130,413) rotate(-90)`} fontSize={31} textAnchor="middle" fill="#000">
        Area (km
        <tspan baselineShift="super" fontSize={22}>
          2
        </tspan>
        ) [--]
      </text>

      {/* title */}
      <text x={568.5} y={41} fontSize={38} textAnchor="middle" fill="#000">
        ICESat
      </text>
    </svg>
  );
}
